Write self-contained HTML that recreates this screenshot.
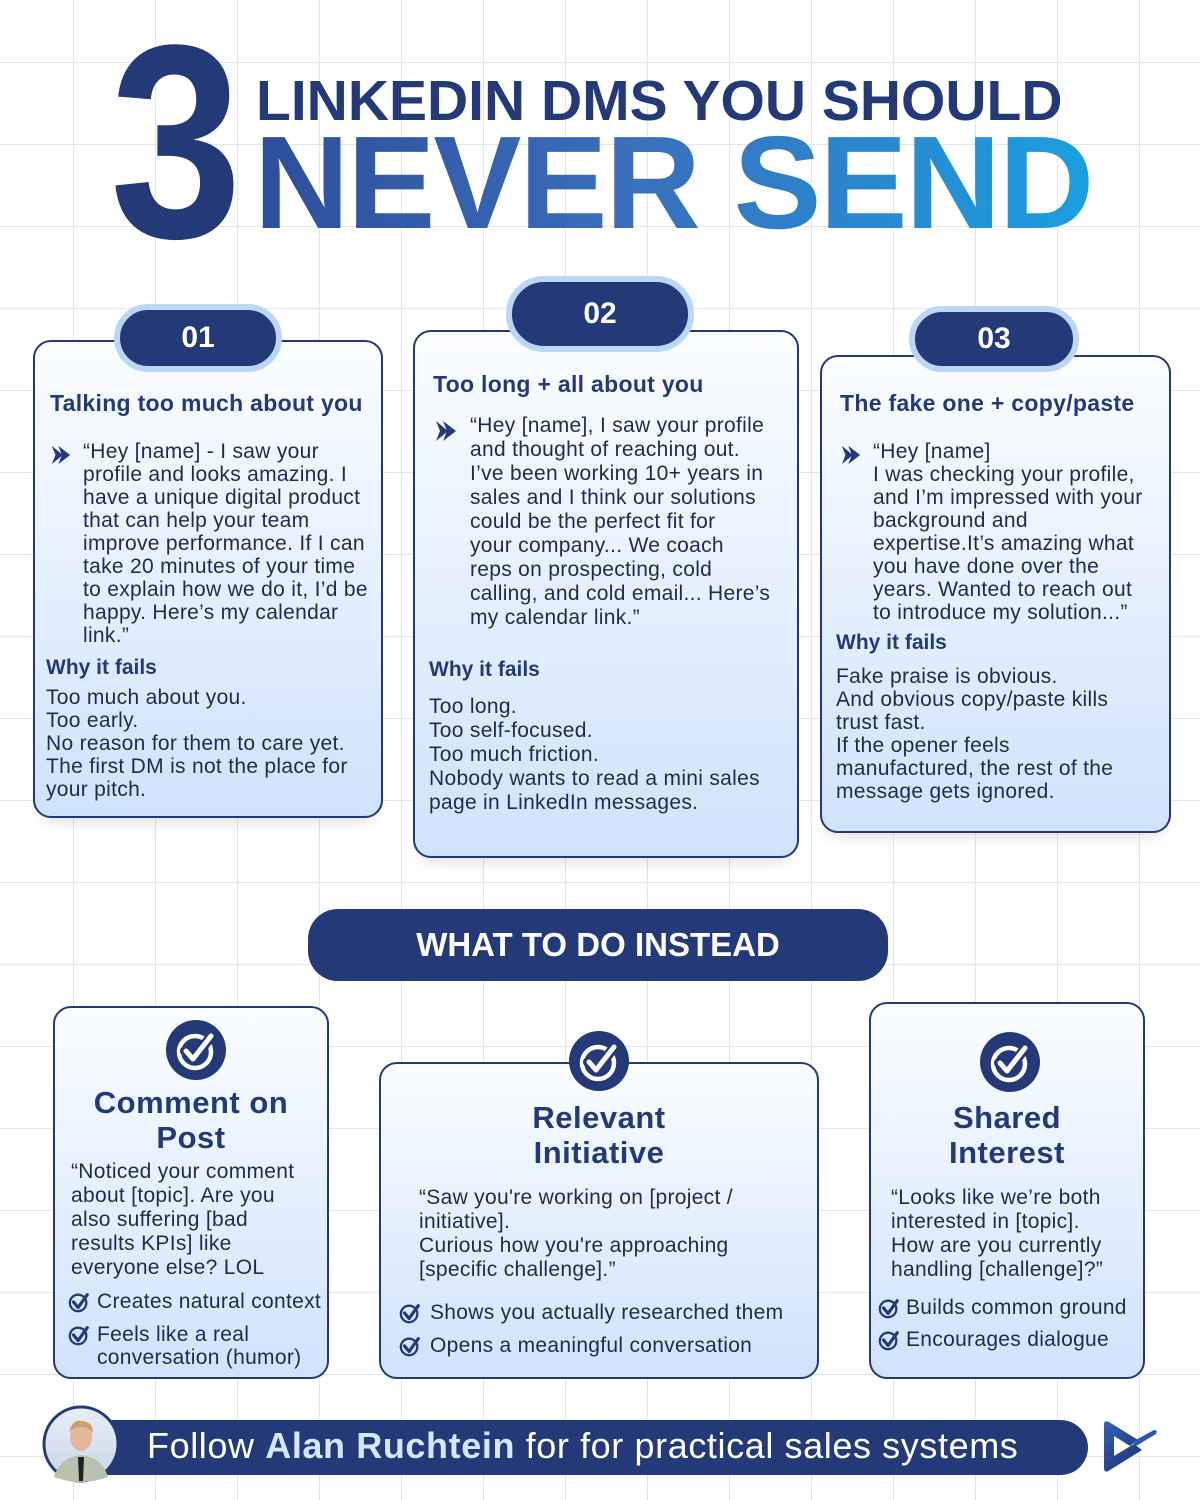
<!DOCTYPE html>
<html><head><meta charset="utf-8"><style>
*{margin:0;padding:0;box-sizing:border-box}
body{width:1200px;height:1500px;position:relative;overflow:hidden;background:#fff;
background-image:linear-gradient(#e3e5ec 1px,transparent 1px),linear-gradient(90deg,#e3e5ec 1px,transparent 1px);
background-size:82px 82px;background-position:-9px -20px;font-family:"Liberation Sans",sans-serif;color:#1f2b4a}
.a{position:absolute}
.nw{white-space:nowrap}
.card{position:absolute;border:2px solid #243a78;border-radius:18px;background:linear-gradient(#fbfdff,#cfe3fb);box-shadow:0 12px 14px -8px rgba(0,0,0,.12)}
.pill{position:absolute;background:#243a78;color:#fff;border-radius:40px;border:6px solid #bcd6f7;font-weight:bold;font-size:30px;display:flex;align-items:center;justify-content:center}
.h{font-weight:bold;color:#243a78;font-size:23px;letter-spacing:.3px}
.t{font-size:21px;letter-spacing:.3px;line-height:23px;color:#1f2b4a}
.why{font-weight:bold;color:#243a78;font-size:21px}
.tt{font-weight:bold;color:#243a78;font-size:31px;letter-spacing:.5px;line-height:35px;text-align:center}
</style></head><body>
<svg width="0" height="0" style="position:absolute"><defs>
<symbol id="chev" viewBox="0 0 24 24"><path d="M2 2 L14 12 L2 22 L6 12Z M9 2 L22 12 L9 22 L13 12Z" fill="#243a78"/></symbol>
<symbol id="bc" viewBox="0 0 60 60"><circle cx="30" cy="30" r="30" fill="#243a78"/><circle cx="29" cy="32" r="16" fill="none" stroke="#fff" stroke-width="4.5"/><path d="M19 31 L27 40 L46 15" fill="none" stroke="#243a78" stroke-width="10" stroke-linecap="round" stroke-linejoin="round"/><path d="M20 31 L27 39 L45 16" fill="none" stroke="#fff" stroke-width="5" stroke-linecap="round" stroke-linejoin="round"/></symbol>
<symbol id="sc" viewBox="0 0 24 24"><circle cx="11" cy="13" r="9" fill="none" stroke="#243a78" stroke-width="2.5"/><path d="M6 12 L11 18 L21 4" fill="none" stroke="#243a78" stroke-width="3.5" stroke-linecap="round" stroke-linejoin="round"/></symbol>
</defs></svg>

<!-- header -->
<div class="a" style="left:110px;top:4px;font-size:276px;font-weight:bold;color:#243a78;line-height:276px;transform:scaleX(.86);transform-origin:left">3</div>
<div class="a nw" style="left:256px;top:69px;font-size:57px;font-weight:bold;color:#243a78;line-height:64px">LINKEDIN DMS YOU SHOULD</div>
<div class="a nw" style="left:254px;top:118px;font-size:132px;font-weight:bold;line-height:130px;letter-spacing:-2px;background:linear-gradient(90deg,#2d4e9a,#3a6fbc 45%,#1a9fe0);-webkit-background-clip:text;background-clip:text;color:transparent">NEVER SEND</div>

<!-- card 1 -->
<div class="card" style="left:33px;top:340px;width:350px;height:478px"></div>
<div class="pill" style="left:114px;top:304px;width:168px;height:68px">01</div>
<div class="a h nw" style="left:50px;top:390px">Talking too much about you</div>
<svg class="a" style="left:49px;top:444px" width="24" height="22"><use href="#chev"/></svg>
<div class="a t nw" style="left:83px;top:440px">“Hey [name] - I saw your<br>profile and looks amazing. I<br>have a unique digital product<br>that can help your team<br>improve performance. If I can<br>take 20 minutes of your time<br>to explain how we do it, I’d be<br>happy. Here’s my calendar<br>link.”</div>
<div class="a why nw" style="left:46px;top:656px">Why it fails</div>
<div class="a t nw" style="left:46px;top:686px">Too much about you.<br>Too early.<br>No reason for them to care yet.<br>The first DM is not the place for<br>your pitch.</div>

<!-- card 2 -->
<div class="card" style="left:413px;top:330px;width:386px;height:528px"></div>
<div class="pill" style="left:506px;top:276px;width:188px;height:76px">02</div>
<div class="a h nw" style="left:433px;top:371px">Too long + all about you</div>
<svg class="a" style="left:433px;top:419px" width="26" height="24"><use href="#chev"/></svg>
<div class="a t nw" style="left:470px;top:414px;line-height:24px">“Hey [name], I saw your profile<br>and thought of reaching out.<br>I’ve been working 10+ years in<br>sales and I think our solutions<br>could be the perfect fit for<br>your company... We coach<br>reps on prospecting, cold<br>calling, and cold email... Here’s<br>my calendar link.”</div>
<div class="a why nw" style="left:429px;top:658px">Why it fails</div>
<div class="a t nw" style="left:429px;top:695px;line-height:24px">Too long.<br>Too self-focused.<br>Too much friction.<br>Nobody wants to read a mini sales<br>page in LinkedIn messages.</div>

<!-- card 3 -->
<div class="card" style="left:820px;top:355px;width:351px;height:478px"></div>
<div class="pill" style="left:909px;top:306px;width:170px;height:66px">03</div>
<div class="a h nw" style="left:840px;top:390px">The fake one + copy/paste</div>
<svg class="a" style="left:839px;top:444px" width="24" height="22"><use href="#chev"/></svg>
<div class="a t nw" style="left:873px;top:440px">“Hey [name]<br>I was checking your profile,<br>and I’m impressed with your<br>background and<br>expertise.It’s amazing what<br>you have done over the<br>years. Wanted to reach out<br>to introduce my solution...”</div>
<div class="a why nw" style="left:836px;top:631px">Why it fails</div>
<div class="a t nw" style="left:836px;top:665px">Fake praise is obvious.<br>And obvious copy/paste kills<br>trust fast.<br>If the opener feels<br>manufactured, the rest of the<br>message gets ignored.</div>

<!-- banner -->
<div class="a" style="left:308px;top:909px;width:580px;height:72px;background:#243a78;border-radius:30px;color:#fff;font-weight:bold;font-size:33px;display:flex;align-items:center;justify-content:center">WHAT TO DO INSTEAD</div>

<!-- bottom card 1 -->
<div class="card" style="left:53px;top:1006px;width:276px;height:373px;box-shadow:none"></div>
<svg class="a" style="left:166px;top:1020px" width="60" height="60"><use href="#bc"/></svg>
<div class="a tt" style="left:53px;top:1085px;width:276px">Comment on<br>Post</div>
<div class="a t nw" style="left:71px;top:1160px;line-height:24px">“Noticed your comment<br>about [topic]. Are you<br>also suffering [bad<br>results KPIs] like<br>everyone else? LOL</div>
<svg class="a" style="left:68px;top:1291px" width="22" height="22"><use href="#sc"/></svg>
<div class="a t nw" style="left:97px;top:1290px">Creates natural context</div>
<svg class="a" style="left:68px;top:1324px" width="22" height="22"><use href="#sc"/></svg>
<div class="a t nw" style="left:97px;top:1323px">Feels like a real<br>conversation (humor)</div>

<!-- bottom card 2 -->
<div class="card" style="left:379px;top:1062px;width:440px;height:317px;box-shadow:none"></div>
<svg class="a" style="left:569px;top:1031px" width="60" height="60"><use href="#bc"/></svg>
<div class="a tt" style="left:379px;top:1100px;width:440px">Relevant<br>Initiative</div>
<div class="a t nw" style="left:419px;top:1186px;line-height:24px">“Saw you're working on [project /<br>initiative].<br>Curious how you're approaching<br>[specific challenge].”</div>
<svg class="a" style="left:399px;top:1302px" width="22" height="22"><use href="#sc"/></svg>
<div class="a t nw" style="left:430px;top:1301px">Shows you actually researched them</div>
<svg class="a" style="left:399px;top:1335px" width="22" height="22"><use href="#sc"/></svg>
<div class="a t nw" style="left:430px;top:1334px">Opens a meaningful conversation</div>

<!-- bottom card 3 -->
<div class="card" style="left:869px;top:1002px;width:276px;height:377px;box-shadow:none"></div>
<svg class="a" style="left:980px;top:1032px" width="60" height="60"><use href="#bc"/></svg>
<div class="a tt" style="left:869px;top:1100px;width:276px">Shared<br>Interest</div>
<div class="a t nw" style="left:891px;top:1186px;line-height:24px">“Looks like we’re both<br>interested in [topic].<br>How are you currently<br>handling [challenge]?”</div>
<svg class="a" style="left:878px;top:1297px" width="22" height="22"><use href="#sc"/></svg>
<div class="a t nw" style="left:906px;top:1296px">Builds common ground</div>
<svg class="a" style="left:878px;top:1329px" width="22" height="22"><use href="#sc"/></svg>
<div class="a t nw" style="left:906px;top:1328px">Encourages dialogue</div>

<!-- footer -->
<div class="a" style="left:90px;top:1420px;width:998px;height:55px;background:#243a78;border-radius:0 28px 28px 0"></div>
<div class="a nw" style="left:147px;top:1425px;font-size:36px;letter-spacing:.6px;line-height:42px;color:#fff">Follow <b style="color:#d6e6ff">Alan Ruchtein</b> for for practical sales systems</div>
<svg class="a" style="left:42px;top:1405px" width="78" height="78">
<defs><linearGradient id="av" x1="0" y1="0" x2="0" y2="1"><stop offset="0" stop-color="#e7eef8"/><stop offset="1" stop-color="#c9d6e6"/></linearGradient></defs>
<circle cx="39" cy="39" r="37" fill="url(#av)" stroke="#243a78" stroke-width="3"/>
<path d="M12 72 Q18 52 39 50 Q60 52 66 72 Q39 82 12 72Z" fill="#b9c0ad"/>
<path d="M36 52 L42 52 L41 76 L37 76Z" fill="#222"/>
<ellipse cx="39" cy="32" rx="11" ry="14" fill="#e2b79a"/>
<path d="M27 28 Q30 14 40 16 Q51 17 51 28 Q46 21 38 22 Q30 22 27 28Z" fill="#c7a06a"/>
</svg>
<svg class="a" style="left:1100px;top:1418px" width="60" height="58">
<defs><linearGradient id="lg" x1="0" y1="0" x2="1" y2="1"><stop offset="0" stop-color="#3460b5"/><stop offset="1" stop-color="#1c2f6e"/></linearGradient></defs>
<path d="M4 6 Q4 2 9 4 L38 22 L30 28 L14 18 L14 38 L34 26 L42 32 L10 52 Q4 56 4 50Z" fill="url(#lg)"/>
<path d="M32 24 L54 12 Q58 12 56 16 L36 28Z" fill="#2d58ad"/>
</svg>
</body></html>
